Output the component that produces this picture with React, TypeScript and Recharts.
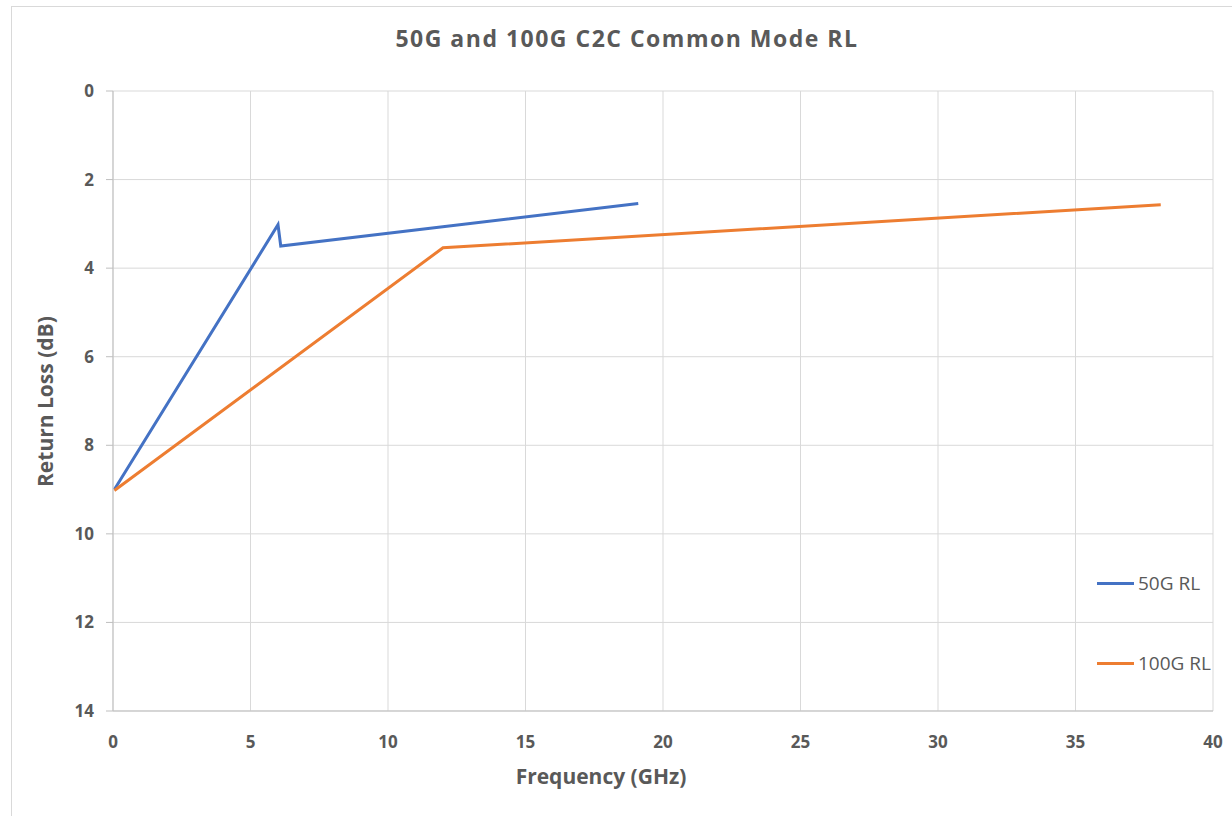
import React from 'react';
import { LineChart, Line, XAxis, YAxis, CartesianGrid } from 'recharts';

// frequencia (GHz) e perda de retorno (dB)
const freq50G = [0.05, 6, 6.1, 19.1];
const rl50G = [9, 3.02, 3.5, 2.54];
const freq100G = [0.05, 12, 38.1];
const rl100G = [9.02, 3.54, 2.57];

const xTicks = [0, 5, 10, 15, 20, 25, 30, 35, 40];
const yTicks = [0, 2, 4, 6, 8, 10, 12, 14];

const serie50G = freq50G.map((f, i) => ({ f, rl: rl50G[i] }));
const serie100G = freq100G.map((f, i) => ({ f, rl: rl100G[i] }));

const FONT = '"Open Sans", "Liberation Sans", sans-serif';
const TEXT = '#595959';

const legendaItens = [
  { nome: '50G RL', cor: '#4472C4' },
  { nome: '100G RL', cor: '#ED7D31' },
];

function Legenda() {
  return (
    <div style={{ position: 'absolute', left: 1097, top: 543, fontFamily: FONT, fontSize: 19, color: TEXT }}>
      {legendaItens.map((it) => (
        <div key={it.nome} style={{ display: 'flex', alignItems: 'center', height: 80 }}>
          <span style={{ display: 'inline-block', width: 37, height: 3, background: it.cor, marginRight: 4 }} />
          <span>{it.nome}</span>
        </div>
      ))}
    </div>
  );
}

export default function App() {
  return (
    <div style={{ position: 'relative', width: 1232, height: 816, background: '#fff', overflow: 'hidden' }}>
      <style>{`body{margin:0;overflow:hidden}`}</style>
      <div style={{ position: 'absolute', left: 11, top: 6, width: 1260, height: 840, border: '1px solid #d9d9d9' }} />
      <div style={{ position: 'absolute', left: 0, top: 21, width: 1254, textAlign: 'center', fontFamily: FONT, fontWeight: 700, fontSize: 23, letterSpacing: 1.5, color: TEXT, lineHeight: '34px' }}>
        50G and 100G C2C Common Mode RL
      </div>
      <div style={{ position: 'absolute', left: 0, top: 0 }}>
        <LineChart width={1232} height={816} margin={{ top: 91, right: 19, bottom: 0, left: 0 }}>
          <CartesianGrid stroke="#d9d9d9" strokeWidth={1} />
          <XAxis
            type="number"
            dataKey="f"
            domain={[0, 40]}
            ticks={xTicks}
            tickLine={false}
            axisLine={{ stroke: '#bfbfbf' }}
            tick={{ fill: TEXT, fontSize: 17, fontWeight: 700, fontFamily: FONT }}
            tickMargin={19}
            height={105}
            label={{ value: 'Frequency (GHz)', position: 'insideTop', offset: 58, dx: -62, fill: TEXT, fontSize: 21, fontWeight: 700, fontFamily: FONT }}
          />
          <YAxis
            type="number"
            reversed
            domain={[0, 14]}
            ticks={yTicks}
            width={113}
            tickSize={7}
            tickLine={{ stroke: '#bfbfbf' }}
            axisLine={{ stroke: '#bfbfbf' }}
            tick={{ fill: TEXT, fontSize: 17, fontWeight: 700, fontFamily: FONT }}
            tickMargin={12}
            label={{ value: 'Return Loss (dB)', angle: -90, position: 'insideLeft', offset: 46, dy: 86, fill: TEXT, fontSize: 21, fontWeight: 700, fontFamily: FONT }}
          />
          <Line data={serie50G} dataKey="rl" name="50G RL" stroke="#4472C4" strokeWidth={3} dot={false} isAnimationActive={false} />
          <Line data={serie100G} dataKey="rl" name="100G RL" stroke="#ED7D31" strokeWidth={3} dot={false} isAnimationActive={false} />
        </LineChart>
      </div>
      <Legenda />
    </div>
  );
}
